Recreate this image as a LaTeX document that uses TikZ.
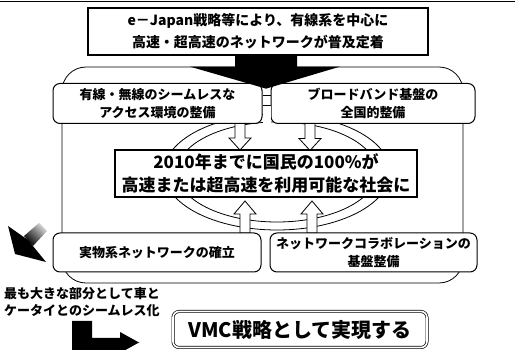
\documentclass[tikz,border=0pt]{standalone}
\usepackage{fontspec}
\setmainfont{Noto Sans CJK JP}
\begin{document}
\begin{tikzpicture}[x=1pt,y=-1pt,
  rbox/.style={draw, line width=1pt, rounded corners=7pt, fill=white, inner sep=0pt},
  sbox/.style={draw, line width=1.3pt, fill=white, inner sep=0pt},
  f15/.style={font=\fontsize{14}{22}\selectfont\bfseries, align=center},
  f13/.style={font=\fontsize{13}{17.5}\selectfont\bfseries, align=center},
  f17/.style={font=\fontsize{17}{23}\selectfont\bfseries, align=center},
  f20/.style={font=\fontsize{20}{24}\selectfont\bfseries, align=center},
  hollow/.style={draw, line width=0.8pt, fill=white},
  thin/.style={line width=0.8pt},
  downarr/.pic={\draw[hollow] (-5,0) -- (5,0) -- (5,15) -- (11,15) -- (0,27) -- (-11,15) -- (-5,15) -- cycle;},
  uparr/.pic={\draw[hollow] (-5,0) -- (5,0) -- (5,-19) -- (11,-19) -- (0,-32) -- (-11,-19) -- (-5,-19) -- cycle;}
]
\useasboundingbox (0,0) rectangle (515,350);
\fill[white] (0,0) rectangle (515,350);
\draw[line width=1.5pt] (0,1.5) -- (515,1.5);

% outer rounded frame
\draw[thin, rounded corners=24pt] (62,67) rectangle (463,283);

% ring around the centre box
\draw[thin, fill=white] (277,172) ellipse [x radius=113pt, y radius=58pt];
\draw[thin] (277,172) ellipse [x radius=100pt, y radius=50pt];

% hollow arrows
\pic at (240,123) {downarr};
\pic at (310,123.5) {downarr};
\pic at (245,233) {uparr};
\pic at (312,233) {uparr};

% boxes
\node[sbox, minimum width=340pt, minimum height=47pt, f15] (top) at (258,31.5)
  {e－Japan戦略等により、有線系を中心に\\高速・超高速のネットワークが普及定着};
\node[rbox, minimum width=209pt, minimum height=40pt, f13] (b1) at (157.5,103.5)
  {有線・無線のシームレスな\\アクセス環境の整備};
\node[rbox, minimum width=204pt, minimum height=40pt, f13] (b2) at (373,103.5)
  {ブロードバンド基盤の\\全国的整備};
\fill[white] (263,106.5) rectangle (270.5,124);
\draw[thin] ([yshift=8pt]b1.east) -- ([yshift=8pt]b2.west);
\draw[thin] ([yshift=-2pt]b1.east) -- ([yshift=-2pt]b2.west);
\node[sbox, minimum width=302pt, minimum height=47pt, f17] (c) at (266,173.5)
  {2010年までに国民の100\%が\\高速または超高速を利用可能な社会に};
\node[rbox, minimum width=208pt, minimum height=39pt, f13] (b3) at (157,252.5)
  {実物系ネットワークの確立};
\node[rbox, minimum width=207pt, minimum height=39pt, f13] (b4) at (373.5,252.5)
  {ネットワークコラボレーションの\\基盤整備};

% big black arrow from the top box
\fill[shift={(top.south)}] (-23,0) -- (39,0) -- (39,11) -- (82,11) -- (8,33) -- (-68,11) -- (-23,11) -- cycle;

% fading dark arrow at the left
\shade[top color=black!15, bottom color=black, shading angle=-45]
  (24,236) -- (33,246) -- (47,231) -- (39,223) -- cycle;
\fill (8,226) -- (28,240) -- (46,262) -- (15,254) -- cycle;

% side text
\node[f13, align=left, anchor=west, inner sep=0pt] (side) at (4,302)
  {最も大きな部分として車と\\ケータイとのシームレス化};

% VMC box
\node[draw, double, double distance=1.6pt, line width=0.7pt, rounded corners=6pt, fill=white,
  minimum width=254pt, minimum height=36pt, inner sep=0pt, f20] (vmc) at (300,329.5)
  {VMC戦略として実現する};

% L-shaped black arrow
\fill (72,321) -- (92,321) -- (92,338) -- (120,338) -- (120,332) -- (139,342.5) -- (120,353) -- (120,350) -- (72,350) -- cycle;
\end{tikzpicture}
\end{document}
